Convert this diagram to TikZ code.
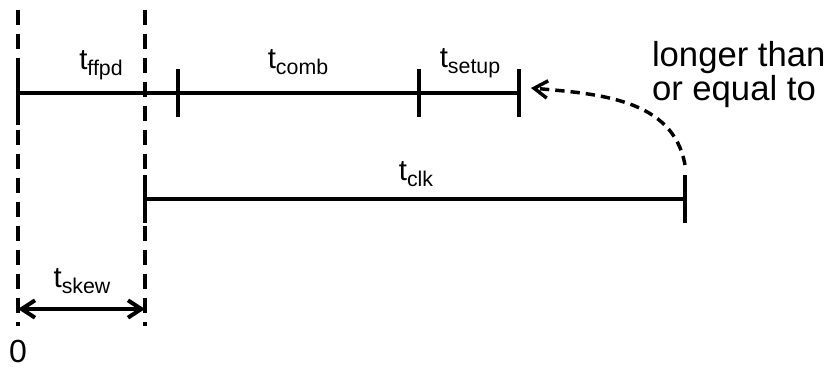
\documentclass[tikz,border=0pt]{standalone}
\usepackage{fontspec}
\setmainfont{Liberation Sans}
\usetikzlibrary{arrows.meta, positioning}

% t with a dropped, smaller index
\newcommand{\tlab}[1]{t\raisebox{-4.5pt}{\fontsize{16}{16}\selectfont #1}}

\begin{document}
\begin{tikzpicture}[x=0.75pt, y=-0.75pt, line width=3pt]

	\tikzset{
		edge/.style={dash pattern=on 11pt off 7pt},
		curvy/.style={line width=2.6pt, dash pattern=on 7pt off 4.5pt},
		barb/.tip={Straight Barb[length=10pt, width=13pt]},
		lbl/.style={anchor=base, inner sep=0pt, font=\fontsize{22}{22}\selectfont},
		txt/.style={inner sep=0pt, font=\fontsize{26}{25.5}\selectfont},
	}
	\useasboundingbox (0,0) rectangle (831,368);

	% reference edges
	\coordinate (e0) at (18,10);
	\coordinate (e0b) at (18,326);
	\coordinate (e1) at (145,10);
	\coordinate (e1b) at (145,326);
	\draw[edge] (e0)--(e0b);
	\draw[edge] (e1)--(e1b);

	% path delays
	\coordinate (p0) at (18,93);
	\coordinate (p1) at (178,93);
	\coordinate (p2) at (419,93);
	\coordinate (p3) at (519,93);
	\draw (p0)--(p3);
	\draw ([yshift=24pt]p0)--([yshift=-24pt]p0);

	% clock period
	\coordinate (c0) at (145,199);
	\coordinate (c1) at (685,199);
	\draw (c0)--(c1);

	\foreach \p in {p1,p2,p3,c0,c1}
		\draw ([yshift=18pt]\p)--([yshift=-18pt]\p);

	% skew
	\coordinate (k0) at (18,309);
	\coordinate (k1) at (145,309);
	\draw[barb-barb] (k0)--(k1);

	% comparison
	\coordinate (bend) at (685,165);
	\coordinate (tip) at (531,88);
	\draw[curvy, -barb] (bend) to[out=100, in=-5] (tip);

	\node[lbl](ffpd) at (101,69) {\tlab{ffpd}};
	\node[lbl](comb) at (298,68) {\tlab{comb}};
	\node[lbl](setup) at (470,67) {\tlab{setup}};
	\node[lbl](clk) at (416,180) {\tlab{clk}};
	\node[lbl](skew) at (82,287) {\tlab{skew}};

	\node[txt, anchor=base, font=\fontsize{24}{24}\selectfont](zero) at (18,362) {0};
	\node[txt, anchor=base west, align=left](cmp) at (650,100) {longer than\\or equal to};

\end{tikzpicture}
\end{document}
